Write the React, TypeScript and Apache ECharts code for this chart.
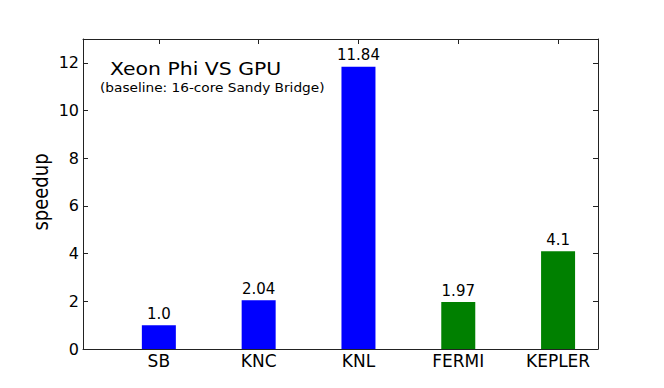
import React, { useEffect, useRef } from "react";
import * as echarts from "echarts";

const categories = ["SB", "KNC", "KNL", "FERMI", "KEPLER"];
const speedups = [1.0, 2.04, 11.84, 1.97, 4.1];
const barColors = ["#0000ff", "#0000ff", "#0000ff", "#008000", "#008000"];
const yTicks = [0, 2, 4, 6, 8, 10, 12];
const xPositions = [0, 1, 2, 3, 4];
const titleText = "Xeon Phi VS GPU";
const subtitleText = "(baseline: 16-core Sandy Bridge)";
const yName = "speedup";

const FONT = "DejaVu Sans";

export default function App() {
  const ref = useRef<HTMLDivElement>(null);
  useEffect(() => {
    if (!ref.current) return;
    const chart = echarts.init(ref.current, null, { renderer: "svg" });
    const lineStyle = { color: "#222", width: 1 };
    const fmtVal = (v: number) => (Number.isInteger(v) ? v.toFixed(1) : String(v));
    chart.setOption({
      animation: false,
      backgroundColor: "#fff",
      grid: { left: 83, right: 66, top: 39, bottom: 39, containLabel: false },
      xAxis: [
        {
          type: "value",
          position: "bottom",
          min: -0.76,
          max: 4.4,
          splitLine: { show: false },
          axisLine: { show: true, lineStyle },
          axisTick: { show: true, inside: true, length: 5, lineStyle, customValues: xPositions },
          axisLabel: {
            show: true,
            customValues: xPositions,
            formatter: (v: number) => categories[Math.round(v)] ?? "",
            fontFamily: FONT,
            fontSize: 17,
            color: "#000",
            margin: 3,
          },
        },
        {
          type: "value",
          position: "top",
          min: -0.76,
          max: 4.4,
          splitLine: { show: false },
          axisLine: { show: true, onZero: false, lineStyle },
          axisTick: { show: true, inside: true, length: 5, lineStyle, customValues: xPositions },
          axisLabel: { show: false },
        },
      ],
      yAxis: [
        {
          type: "value",
          position: "left",
          min: 0,
          max: 13,
          splitLine: { show: false },
          axisLine: { show: true, onZero: false, lineStyle },
          axisTick: { show: true, inside: true, length: 5, lineStyle, customValues: yTicks },
          axisLabel: {
            show: true,
            customValues: yTicks,
            fontFamily: FONT,
            fontSize: 16,
            color: "#000",
            margin: 4,
          },
        },
        {
          type: "value",
          position: "right",
          min: 0,
          max: 13,
          splitLine: { show: false },
          axisLine: { show: true, onZero: false, lineStyle },
          axisTick: { show: true, inside: true, length: 5, lineStyle, customValues: yTicks },
          axisLabel: { show: false },
        },
      ],
      series: [
        {
          type: "bar",
          xAxisIndex: 0,
          yAxisIndex: 0,
          barWidth: 34,
          data: speedups.map((v, i) => ({
            value: [xPositions[i], v],
            itemStyle: { color: barColors[i] },
          })),
          label: {
            show: true,
            position: "top",
            distance: 4,
            fontFamily: FONT,
            fontSize: 15,
            color: "#000",
            formatter: (p: any) => fmtVal(p.value[1]),
          },
          z: 1,
        },
      ],
      graphic: [
        {
          type: "text",
          x: 110,
          y: 69,
          scaleX: 1.2,
          style: {
            text: titleText,
            fontFamily: FONT,
            fontSize: 17,
            fill: "#000",
            textAlign: "left",
            textVerticalAlign: "middle",
          },
        },
        {
          type: "text",
          x: 100,
          y: 88,
          scaleX: 1.2,
          style: {
            text: subtitleText,
            fontFamily: FONT,
            fontSize: 11.4,
            fill: "#000",
            textAlign: "left",
            textVerticalAlign: "middle",
          },
        },
        {
          type: "text",
          x: 41,
          y: 192,
          rotation: Math.PI / 2,
          scaleY: 1.2,
          style: {
            text: yName,
            fontFamily: FONT,
            fontSize: 18,
            fill: "#000",
            textAlign: "center",
            textVerticalAlign: "middle",
          },
        },
      ],
    });
    return () => chart.dispose();
  }, []);
  return (
    <div
      ref={ref}
      style={{ position: "fixed", left: 0, top: 0, width: 664, height: 388 }}
    />
  );
}
